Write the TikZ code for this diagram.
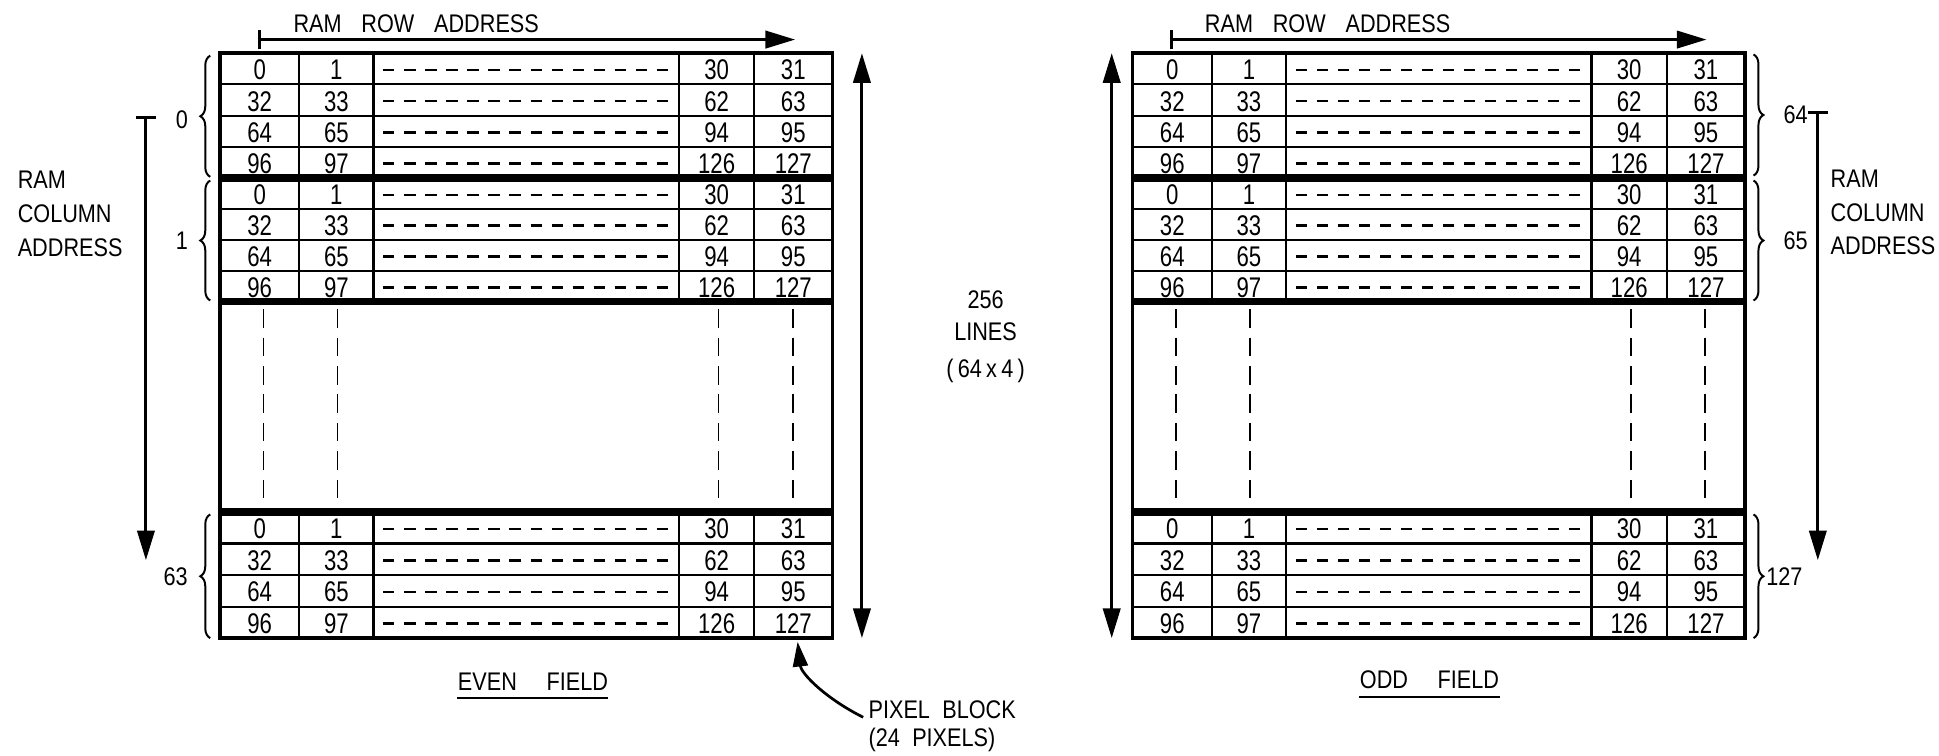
\documentclass[tikz,border=0pt]{standalone}
\usepackage{fontspec}
\setmainfont{Liberation Sans}[FakeStretch=0.85]
\newfontfamily\cellfont{Liberation Sans}[FakeStretch=0.78]
\usetikzlibrary{arrows.meta,decorations.pathreplacing,calc}

\tikzset{
  thinln/.style={line width=0.85pt},
  outerln/.style={line width=1.4pt},
  sepln/.style={line width=3pt},
  cell/.style={inner sep=0pt, font=\cellfont\fontsize{11.5}{12}\selectfont},
  lbl/.style={inner sep=0pt, font=\fontsize{10.3}{12}\selectfont},
  dashrow/.style={line width=1pt, dash pattern=on 4.5pt off 4pt},
  dashcol/.style={line width=0.7pt, dash pattern=on 7.5pt off 4pt},
  barr/.style={line width=1.2pt, {Bar[width=8pt,line width=1.2pt]}-{Triangle[length=12pt,width=7pt]}},
  dblarr/.style={line width=1.2pt, {Triangle[length=12pt,width=7pt]}-{Triangle[length=12pt,width=7pt]}},
  bracel/.style={line width=0.8pt, decorate, decoration={brace, amplitude=4pt}},
}

\newcommand\ramfield[2]{%
\begin{scope}[shift={(#1,0)}]
  \foreach \t/\h/\b in {43/25.25/a,144/25/b,414/25.5/c}{
    \foreach \r in {0,1,2,3}{
      \pgfmathsetmacro\yc{\t+(\r+0.5)*\h+1}
      \pgfmathtruncatemacro\na{32*\r}
      \pgfmathtruncatemacro\nb{32*\r+1}
      \pgfmathtruncatemacro\nc{32*\r+30}
      \pgfmathtruncatemacro\nd{32*\r+31}
      \node[cell] (#2-\b-\r-a) at (32,\yc) {\na};
      \node[cell] (#2-\b-\r-b) at (94,\yc) {\nb};
      \node[cell] (#2-\b-\r-c) at (401.5,\yc) {\nc};
      \node[cell] (#2-\b-\r-d) at (463.5,\yc) {\nd};
      \draw[dashrow] (132,\yc) -- (365,\yc);
    }
    \foreach \k in {1,2,3} \draw[thinln] (0,{\t+\k*\h}) -- (495,{\t+\k*\h});
    \foreach \x in {64,124,371,432} \draw[thinln] (\x,\t) -- (\x,{\t+4*\h});
  }
  \foreach \x in {35,95,403,463} \draw[dashcol] (\x,250) -- (\x,410);
  \draw[sepln] (0,144) -- (495,144);
  \draw[sepln] (0,244) -- (495,244);
  \draw[sepln] (0,414) -- (495,414);
  \draw[outerln] (0,43) rectangle (495,516);
  \coordinate (#2-tl) at (0,43);
  \coordinate (#2-br) at (495,516);
\end{scope}}

\begin{document}
\begin{tikzpicture}[x=0.5pt,y=-0.5pt]
\useasboundingbox (0,0) rectangle (1568,611);

% ---------- EVEN FIELD ----------
\ramfield{178}{E}

% row address arrow
\node[lbl, anchor=west] (rowE) at (237,19) {RAM\hspace{8pt}ROW\hspace{8pt}ADDRESS};
\coordinate (rowEs) at (209,32);
\coordinate (rowEe) at (643,32);
\draw[barr] (rowEs) -- (rowEe);

% column address
\node[lbl, anchor=west, align=left, font=\fontsize{10.3}{13.6}\selectfont] (colE) at (14,173) {RAM\\COLUMN\\ADDRESS};
\coordinate (colEs) at (118,94);
\coordinate (colEe) at (118,453);
\draw[barr] (colEs) -- (colEe);

\draw[bracel] (170,143) -- (170,45);
\draw[bracel] (170,243) -- (170,146);
\draw[bracel] (170,516) -- (170,416);
\node[lbl] (cE0) at (147,97) {0};
\node[lbl] (cE1) at (147,195) {1};
\node[lbl] (cE63) at (142,466) {63};

% lines arrows
\coordinate (linEt) at (697,43);
\coordinate (linEb) at (697,516);
\draw[dblarr] (linEt) -- (linEb);
\node[lbl] (l256) at (797,242) {256};
\node[lbl] (llines) at (797,268) {LINES};
\node[lbl] (l64) at (797,300) {(\,64\,x\,4\,)};

\node[lbl] (evenF) at (431,551) {EVEN\hspace{12pt}FIELD};
\draw[line width=1.1pt] ([yshift=-3pt]evenF.south west) -- ([yshift=-3pt]evenF.south east);

% pixel block
\node[lbl, anchor=west] (pb1) at (702,574) {PIXEL\hspace{5pt}BLOCK};
\node[lbl, anchor=west] (pb2) at (702,598) {(24\hspace{5pt}PIXELS)};
\coordinate (pbS) at (698,580);
\coordinate (pbT) at (645,519);
\draw[line width=1.1pt, -{Triangle[length=10pt,width=6pt]}] (pbS) .. controls (668,565) and (648,545) .. (pbT);

% ---------- ODD FIELD ----------
\ramfield{916}{O}

\node[lbl, anchor=west] (rowO) at (974,19) {RAM\hspace{8pt}ROW\hspace{8pt}ADDRESS};
\coordinate (rowOs) at (946,32);
\coordinate (rowOe) at (1380,32);
\draw[barr] (rowOs) -- (rowOe);

\coordinate (linOt) at (899,43);
\coordinate (linOb) at (899,516);
\draw[dblarr] (linOt) -- (linOb);

\draw[bracel] (1418,44) -- (1418,142);
\draw[bracel] (1418,146) -- (1418,243);
\draw[bracel] (1418,416) -- (1418,516);
\node[lbl] (cO64) at (1452,93) {64};
\node[lbl] (cO65) at (1452,195) {65};
\node[lbl] (cO127) at (1443,466) {127};

\coordinate (colOs) at (1470,90);
\coordinate (colOe) at (1470,453);
\draw[barr] (colOs) -- (colOe);
\node[lbl, anchor=west, align=left, font=\fontsize{10.3}{13.6}\selectfont] (colO) at (1480,172) {RAM\\COLUMN\\ADDRESS};

\node[lbl] (oddF) at (1156,550) {ODD\hspace{12pt}FIELD};
\draw[line width=1.1pt] ([yshift=-3pt]oddF.south west) -- ([yshift=-3pt]oddF.south east);

\end{tikzpicture}
\end{document}
